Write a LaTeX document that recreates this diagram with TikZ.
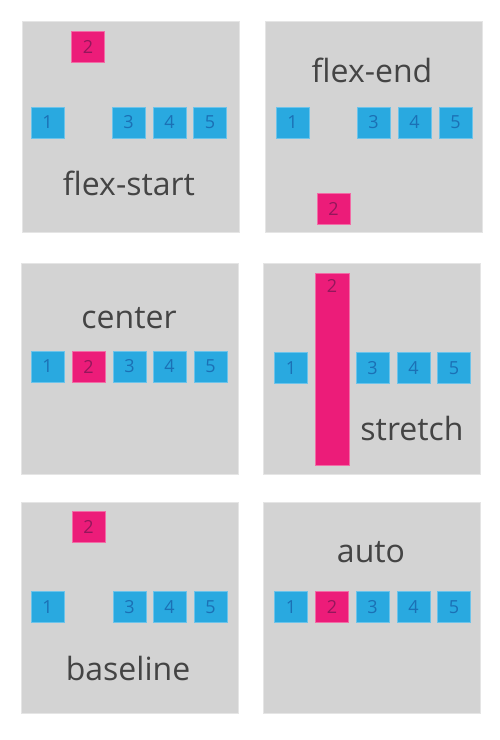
\documentclass[tikz,border=0pt]{standalone}
\usepackage{fontspec}
\setmainfont{Open Sans}
\usepackage{tikz}
\usetikzlibrary{positioning}
\usepackage{xcolor}
\definecolor{panelgray}{HTML}{D3D3D3}
\definecolor{itemblue}{HTML}{29A9E0}
\definecolor{itemblueline}{HTML}{6CC3EA}
\definecolor{itembluetext}{HTML}{1B70B5}
\definecolor{itempink}{HTML}{EC1C79}
\definecolor{itempinkline}{HTML}{F26BA6}
\definecolor{itempinktext}{HTML}{94175C}
\definecolor{labelgray}{HTML}{444444}

\begin{document}
\begin{tikzpicture}[x=1pt,y=-1pt,
  panel/.style={fill=panelgray,draw=white!40!panelgray,line width=0.8pt,minimum width=217pt,minimum height=211pt,inner sep=0pt},
  item/.style={fill=itemblue,draw=itemblueline,line width=0.7pt,minimum width=33pt,minimum height=31pt,inner sep=0pt,text=itembluetext,font=\fontsize{18}{18}\selectfont},
  pick/.style={item,fill=itempink,draw=itempinkline,text=itempinktext},
  caption/.style={anchor=base,text=labelgray,font=\fontsize{32}{32}\selectfont,inner sep=0pt}]
\useasboundingbox (0,0) rectangle (500,740);
% flex-start
\node[panel] (fsBox) at (130.5,127) {};
\node[item] (fs1) at (47.5,122.5) {1};
\node[pick] (fs2) at (88,46.5) {2};
\node[item] (fs3) at (128.5,122.5) {3};
\node[item] (fs4) at (169.5,122.5) {4};
\node[item] (fs5) at (210,122.5) {5};
\node[caption] (fsText) at (129,195) {flex-start};
% flex-end
\node[panel] (feBox) at (374,127) {};
\node[item] (fe1) at (292.5,122.5) {1};
\node[pick] (fe2) at (333.5,209) {2};
\node[item] (fe3) at (373.5,122.5) {3};
\node[item] (fe4) at (414.5,122.5) {4};
\node[item] (fe5) at (455.5,122.5) {5};
\node[caption] (feText) at (372,82) {flex-end};
% center
\node[panel] (ceBox) at (129.5,368.5) {};
\node[item] (ce1) at (47.5,366.5) {1};
\node[pick] (ce2) at (88.5,366.5) {2};
\node[item] (ce3) at (129.5,366.5) {3};
\node[item] (ce4) at (169.5,366.5) {4};
\node[item] (ce5) at (210.5,366.5) {5};
\node[caption] (ceText) at (129,328) {center};
% stretch
\node[panel] (stBox) at (372,368.5) {};
\node[item] (st1) at (291,368) {1};
\node[pick,minimum width=34pt,minimum height=192pt,label={[text=itempinktext,font=\fontsize{18}{18}\selectfont,anchor=north,yshift=-3pt]north:2}] (st2) at (332,369) {};
\node[item] (st3) at (372.5,368) {3};
\node[item] (st4) at (413.5,368) {4};
\node[item] (st5) at (454,368) {5};
\node[caption] (stText) at (412,440) {stretch};
% baseline
\node[panel] (blBox) at (129.5,608) {};
\node[item] (bl1) at (47.5,607) {1};
\node[pick] (bl2) at (88.5,526.5) {2};
\node[item] (bl3) at (129.5,607) {3};
\node[item] (bl4) at (169.5,607) {4};
\node[item] (bl5) at (210.5,607) {5};
\node[caption] (blText) at (128,680) {baseline};
% auto
\node[panel] (auBox) at (372,607.5) {};
\node[item] (au1) at (291,607) {1};
\node[pick] (au2) at (332,607) {2};
\node[item] (au3) at (372.5,607) {3};
\node[item] (au4) at (413.5,607) {4};
\node[item] (au5) at (454,607) {5};
\node[caption] (auText) at (371,562) {auto};
\end{tikzpicture}
\end{document}
